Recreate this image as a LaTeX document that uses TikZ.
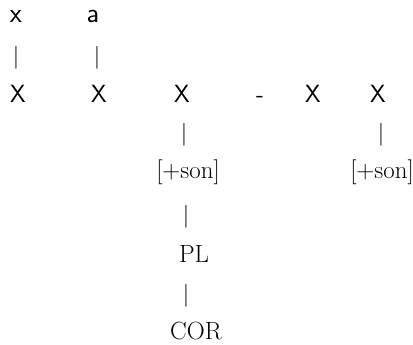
\documentclass[tikz,border=0pt]{standalone}
\usepackage{fontspec}
\begin{document}
\begin{tikzpicture}[x=1bp,y=-1bp,
  every node/.style={inner sep=0pt,outer sep=0pt},
  sf/.style={font=\fontsize{25}{30}\selectfont\sffamily,anchor=base},
  sfl/.style={font=\fontsize{28}{32}\selectfont\sffamily,anchor=base},
  rm/.style={font=\fontsize{25}{30}\selectfont,anchor=base},
  bar/.style={font=\fontsize{23}{28}\selectfont,anchor=center}]
\useasboundingbox (0,0) rectangle (413,345);
% top row
\node[sfl] (x) at (16,22) {x};
\node[sfl] (a) at (93,22) {a};
\node[bar] (b1) at (16,57.5) {|};
\node[bar] (b2) at (97,57.5) {|};
% X row
\node[sf] (X1) at (18,102) {X};
\node[sf] (X2) at (99,102) {X};
\node[sf] (X3) at (182,102) {X};
\node[sf] (dash) at (260,102) {-};
\node[sf] (X5) at (313,102) {X};
\node[sf] (X6) at (378,102) {X};
% below
\node[bar] (b3) at (184,135) {|};
\node[bar] (b4) at (381,135) {|};
\node[rm] (s1) at (188,178) {[+son]};
\node[rm] (s2) at (382,178) {[+son]};
\node[bar] (b5) at (186,217) {|};
\node[rm] (pl) at (194,262) {PL};
\node[bar] (b6) at (186,296) {|};
\node[rm] (cor) at (196,339.5) {COR};
\end{tikzpicture}
\end{document}
